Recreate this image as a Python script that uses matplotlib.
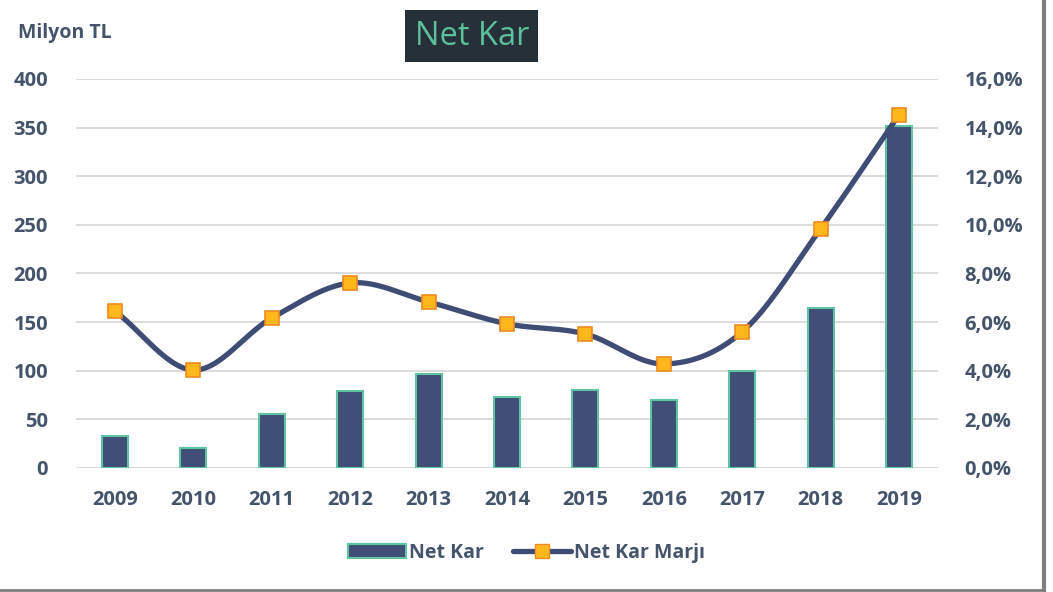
import numpy as np
import matplotlib.pyplot as plt
from matplotlib.lines import Line2D

# data
years = ["2009", "2010", "2011", "2012", "2013", "2014", "2015", "2016", "2017", "2018", "2019"]
net_kar = [33, 21, 55, 79, 97, 73, 80, 70, 100, 164, 352]
net_kar_marji = [6.45, 4.03, 6.17, 7.61, 6.83, 5.93, 5.51, 4.28, 5.60, 9.84, 14.53]

text_color = "#44546A"
bar_color = "#404E78"
edge_color = "#5FC4A0"
line_color = "#3F4C74"

plt.rcParams["font.family"] = ["Open Sans", "DejaVu Sans"]

def catmull_rom(xs, ys, n=30):
    # smoothed line like Excel's "smoothed line"
    xs = np.asarray(xs, float)
    ys = np.asarray(ys, float)
    px = np.concatenate([[2 * xs[0] - xs[1]], xs, [2 * xs[-1] - xs[-2]]])
    py = np.concatenate([[2 * ys[0] - ys[1]], ys, [2 * ys[-1] - ys[-2]]])
    outx, outy = [], []
    t = np.linspace(0, 1, n)
    for i in range(1, len(px) - 2):
        for p, out in ((px, outx), (py, outy)):
            p0, p1, p2, p3 = p[i - 1], p[i], p[i + 1], p[i + 2]
            seg = 0.5 * ((2 * p1) + (-p0 + p2) * t + (2 * p0 - 5 * p1 + 4 * p2 - p3) * t ** 2
                         + (-p0 + 3 * p1 - 3 * p2 + p3) * t ** 3)
            out.extend(seg)
    return np.array(outx), np.array(outy)

fig = plt.figure(figsize=(10.53, 5.92), dpi=100)
ax = fig.add_axes([0.072, 0.2095, 0.819, 0.6571])
ax2 = ax.twinx()

x = np.arange(len(years))
ax.bar(x, net_kar, width=0.33, color=bar_color, edgecolor=edge_color, linewidth=1.5, zorder=2)
ax.set_ylim(0, 400)
ax.set_xlim(-0.5, len(years) - 0.5)
ax.set_yticks(range(0, 401, 50))
ax.grid(axis="y", color="#D9D9D9", linewidth=1.3, zorder=0)
ax.set_axisbelow(True)
ax.set_xticks(x)
ax.set_xticklabels(years)

sx, sy = catmull_rom(x, net_kar_marji)
ax2.plot(sx, sy, color=line_color, linewidth=3.8, solid_capstyle="round", zorder=3)
ax2.plot(x, net_kar_marji, linestyle="none", marker="s", markersize=10,
         markerfacecolor="#FFB81C", markeredgecolor="#F08A24", markeredgewidth=1.2, zorder=4)
ax2.set_ylim(0, 16)
ax2.set_yticks(range(0, 17, 2))
ax2.set_yticklabels([f"{v},0%" for v in range(0, 17, 2)])

for a in (ax, ax2):
    for s in a.spines.values():
        s.set_visible(False)
    a.tick_params(length=0, labelsize=14.5, labelcolor=text_color)
    for lbl in a.get_xticklabels() + a.get_yticklabels():
        lbl.set_fontweight("bold")
ax.tick_params(axis="x", pad=16)
ax.tick_params(axis="y", pad=20)
ax2.tick_params(axis="y", pad=19)

fig.text(0.017, 0.945, "Milyon TL", fontsize=14, fontweight="bold", color=text_color, va="center")
fig.text(0.448, 0.939, "Net Kar", fontsize=23.5, color="#5DBF9C", ha="center", va="center",
         bbox=dict(boxstyle="square,pad=0.28", facecolor="#263038", edgecolor="none"))

handles = [plt.Rectangle((0, 0), 1, 1, facecolor=bar_color, edgecolor=edge_color, linewidth=1.5),
           Line2D([], [], color=line_color, linewidth=3.8, marker="s", markersize=10,
                  markerfacecolor="#FFB81C", markeredgecolor="#F08A24", solid_capstyle="round")]
leg = fig.legend(handles, ["Net Kar", "Net Kar Marjı"], loc="center", bbox_to_anchor=(0.5, 0.066),
                 ncol=2, frameon=False, handlelength=3.0, columnspacing=1.5, handletextpad=0.15,
                 prop={"size": 14, "weight": "bold"})
for t in leg.get_texts():
    t.set_color(text_color)

# frame
fig.add_artist(Line2D([0.991, 0.991], [0.0, 1.0], color="#7F7F7F", linewidth=3, transform=fig.transFigure))
fig.add_artist(Line2D([0.0, 0.991], [0.003, 0.003], color="#7F7F7F", linewidth=2, transform=fig.transFigure))

fig.savefig("out.png", dpi=100)
